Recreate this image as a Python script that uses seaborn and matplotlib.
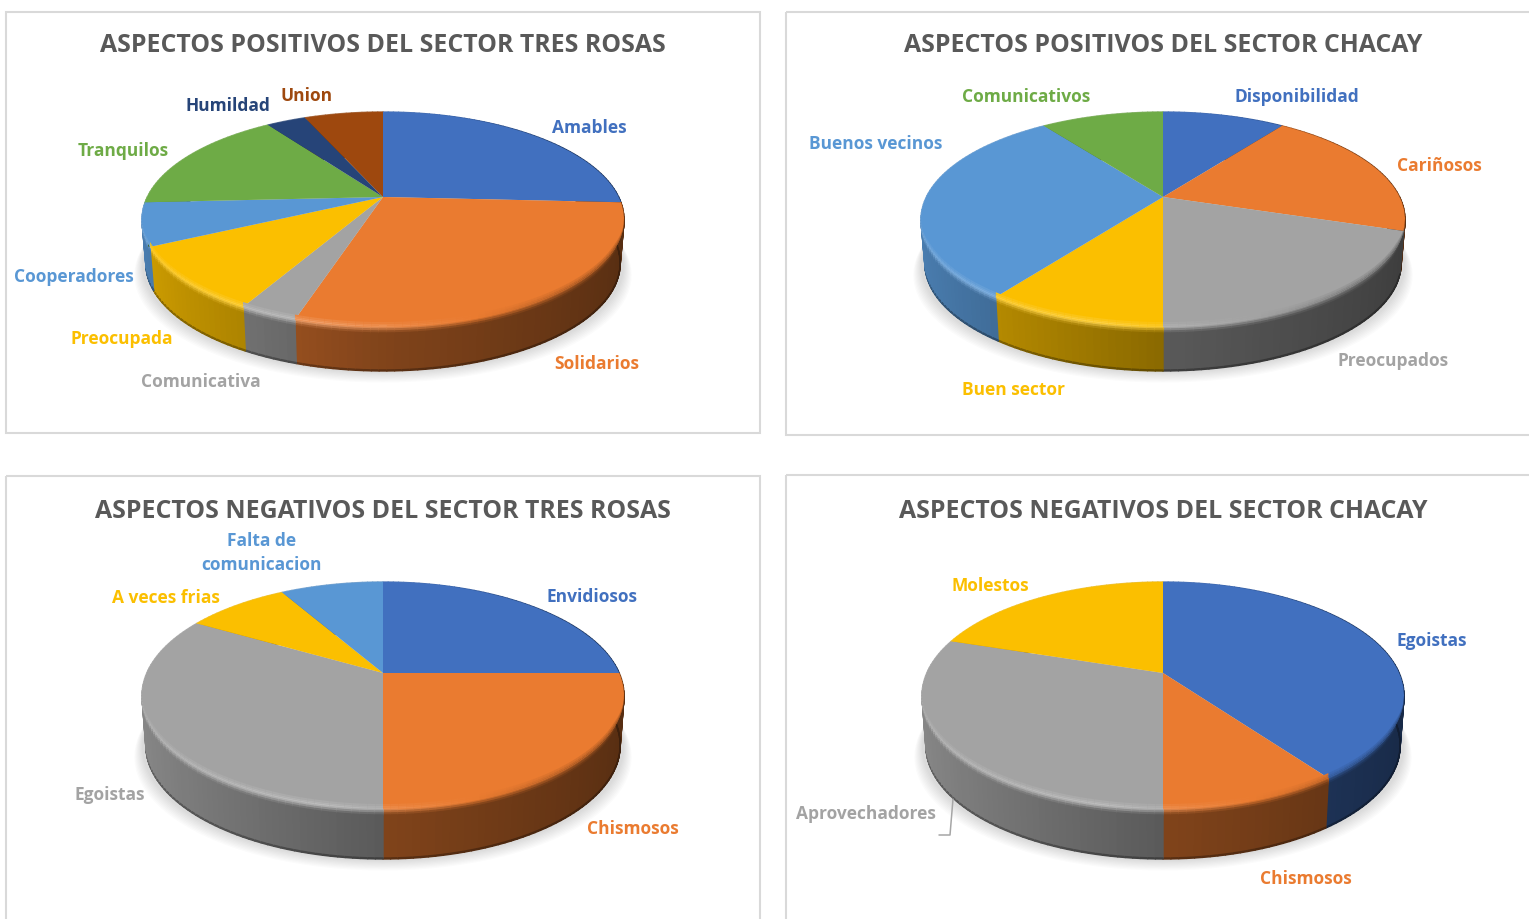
import numpy as np
import seaborn as sns
import matplotlib
matplotlib.use('Agg')
import matplotlib.pyplot as plt
from matplotlib.collections import PolyCollection
from matplotlib.colors import to_rgb
from matplotlib.patches import Rectangle
from matplotlib.transforms import Transform

# datos de cada grafico
cat_pos_rosas = ['Amables', 'Solidarios', 'Comunicativa', 'Preocupada', 'Cooperadores', 'Tranquilos', 'Humildad', 'Union']
val_pos_rosas = [8, 9, 1, 3, 2, 5, 1, 2]
cat_pos_chacay = ['Disponibilidad', 'Cariñosos', 'Preocupados', 'Buen sector', 'Buenos vecinos', 'Comunicativos']
val_pos_chacay = [1, 2, 2, 1, 3, 1]
cat_neg_rosas = ['Envidiosos', 'Chismosos', 'Egoistas', 'A veces frias', 'Falta de\ncomunicacion']
val_neg_rosas = [3, 3, 4, 1, 1]
cat_neg_chacay = ['Egoistas', 'Chismosos', 'Aprovechadores', 'Molestos']
val_neg_chacay = [4, 1, 3, 2]

titulos = ['ASPECTOS POSITIVOS DEL SECTOR TRES ROSAS', 'ASPECTOS POSITIVOS DEL SECTOR CHACAY',
           'ASPECTOS NEGATIVOS DEL SECTOR TRES ROSAS', 'ASPECTOS NEGATIVOS DEL SECTOR CHACAY']

office = ['#4170BF', '#EA7B30', '#A3A3A3', '#FBBF00', '#5997D4', '#6EAB46', '#264478', '#9E480E']

sns.set_theme(style='white', palette=office)
plt.rcParams['font.family'] = ['Open Sans', 'DejaVu Sans']

W, H = 1529, 919
fig = plt.figure(figsize=(W / 100, H / 100), dpi=100, facecolor='white')
ax = fig.add_axes([0, 0, 1, 1])


class Perspectiva(Transform):
    # pasa el circulo unitario del pie a pixeles de la figura
    input_dims = 2
    output_dims = 2

    def __init__(self, cx, cy, arriba, abajo, ancho):
        super().__init__()
        self.cx, self.cy = cx, cy
        self.k = (abajo - arriba) / (abajo + arriba)
        self.ry = arriba * (1 + self.k)
        self.rx = ancho * np.sqrt(1 - self.k ** 2)

    def transform_non_affine(self, pts):
        pts = np.asarray(pts, dtype=float)
        d = 1 + self.k * pts[:, 1]
        return np.column_stack([self.cx + self.rx * pts[:, 0] / d, self.cy - self.ry * pts[:, 1] / d])


def tono(color, f):
    c = np.array(to_rgb(color))
    if f <= 1:
        return c * f
    return c + (1 - c) * min(f - 1, 1)


def mezcla(a, b, t):
    return np.array(a) * (1 - t) + np.array(b) * t


def dibujar_pie(valores, cx, cy, arriba, abajo, ancho, alto):
    per = Perspectiva(cx, cy, arriba, abajo, ancho)
    colores = office[:len(valores)]

    # sombra
    t = np.radians(np.arange(0, 361, 3))
    borde = per.transform_non_affine(np.column_stack([np.cos(t), np.sin(t)]))
    for i in range(9):
        esc = 1.0 + 0.004 * i
        ax.fill(cx + (borde[:, 0] - cx) * esc, borde[:, 1] + alto + 2 + 1.2 * i,
                color='black', alpha=0.016, lw=0, zorder=2)

    wedges, _ = ax.pie(valores, colors=colores, startangle=90, counterclock=False,
                       wedgeprops={'linewidth': 0})

    polys, cols = [], []
    polys2, cols2 = [], []
    for w, col in zip(wedges, colores):
        w.set_transform(per + ax.transData)
        w.set_zorder(4)
        n = max(int((w.theta2 - w.theta1) / 1.5), 2)
        th = np.radians(np.linspace(w.theta1, w.theta2, n + 1))
        for a, b in zip(th[:-1], th[1:]):
            xa, xb = np.cos(a), np.cos(b)
            ya, yb = np.sin(a), np.sin(b)
            xm, ym = (xa + xb) / 2, (ya + yb) / 2
            lado = tono(col, np.interp(xm, [-1, 0, 1], [0.84, 0.55, 0.37]))
            luz = tono(col, np.interp(xm, [-1, -0.2, 0.4, 1], [1.2, 1.3, 0.95, 0.5]))
            peso = np.clip((0.3 - ym) / 0.35, 0, 1)
            p = per.transform_non_affine(np.array([[xa, ya], [xb, yb]]))

            # cara lateral, con un poco de estrechamiento abajo
            capas = [0, 2, 4, 6, alto - 1, alto]
            for d0, d1 in zip(capas[:-1], capas[1:]):
                f0, f1 = 1 - 0.016 * d0 / alto, 1 - 0.016 * d1 / alto
                q = [[cx + (p[0, 0] - cx) * f0, p[0, 1] + d0], [cx + (p[1, 0] - cx) * f0, p[1, 1] + d0],
                     [cx + (p[1, 0] - cx) * f1, p[1, 1] + d1], [cx + (p[0, 0] - cx) * f1, p[0, 1] + d1]]
                polys.append(q)
                if d0 < 6:
                    cols.append(mezcla(luz, lado, (d0 + 1) / 6))
                elif d1 == alto:
                    cols.append(lado * 0.7)
                else:
                    cols.append(lado)

            # bisel: franja subida desde el borde, se adelgaza hacia los extremos
            ea = np.clip((-0.2 - ya) / 0.25, 0, 1)
            eb = np.clip((-0.2 - yb) / 0.25, 0, 1)
            if ea > 0 or eb > 0:
                for s0, s1, m in [(5, 3, 0.3), (3, 1.5, 0.6), (1.5, 0, 0.9)]:
                    polys2.append([[p[0, 0], p[0, 1] - s0 * ea], [p[1, 0], p[1, 1] - s0 * eb],
                                   [p[1, 0], p[1, 1] - s1 * eb], [p[0, 0], p[0, 1] - s1 * ea]])
                    cols2.append(mezcla(tono(col, 1.0), luz, peso * m))

    ax.add_collection(PolyCollection(polys, facecolors=cols, edgecolors=cols, linewidths=1.0, zorder=3))
    ax.add_collection(PolyCollection(polys2, facecolors=cols2, edgecolors='none', linewidths=0, zorder=5))
    return colores


# marcos de los paneles
for x0, y0, x1, y1 in [(5.5, 11.5, 760, 433), (785.5, 11.5, 1560, 435), (5.5, 475.5, 760, 960), (785.5, 474.5, 1560, 960)]:
    ax.add_patch(Rectangle((x0, y0), x1 - x0, y1 - y0, fill=False, ec='#D9D9D9', lw=1.5, zorder=1))

paneles = [
    (val_pos_rosas, cat_pos_rosas, (383, 197, 85, 130, 241, 44), (383, 46),
     [(589, 128), (597, 364), (201, 382), (122, 339), (74, 277), (123, 151), (228, 106), (307, 96)]),
    (val_pos_chacay, cat_pos_chacay, (1163, 197, 85, 130, 242, 44), (1163, 45.5),
     [(1297, 97), (1439, 166), (1393, 361), (1014, 390), (876, 144), (1026, 97)]),
    (val_neg_rosas, cat_neg_rosas, (383, 673, 91, 136, 241, 50), (383, 511.5),
     [(592, 597), (633, 829), (110, 795), (166, 598), (262, 553)]),
    (val_neg_chacay, cat_neg_chacay, (1163, 673, 91, 136, 241, 50), (1163, 511.5),
     [(1432, 641), (1306, 879), (866, 814), (990, 586)]),
]

for (vals, cats, geo, pos_tit, pos_lab), tit in zip(paneles, titulos):
    colores = dibujar_pie(vals, *geo)
    ax.text(pos_tit[0], pos_tit[1], tit, ha='center', va='center', fontsize=17.9, fontweight='bold',
            color='#595959', zorder=6)
    for cat, col, (lx, ly) in zip(cats, colores, pos_lab):
        ax.text(lx, ly, cat, ha='center', va='center', fontsize=12.5, fontweight='bold', color=col,
                linespacing=1.42, zorder=6)

# linea guia de Aprovechadores
ax.plot([953, 950, 939], [799, 835, 835], color='#A6A6A6', lw=1.1, zorder=6)

ax.set_aspect('auto')
ax.set_xlim(0, W)
ax.set_ylim(H, 0)
ax.axis('off')
fig.savefig('out.png', dpi=100, facecolor='white')
